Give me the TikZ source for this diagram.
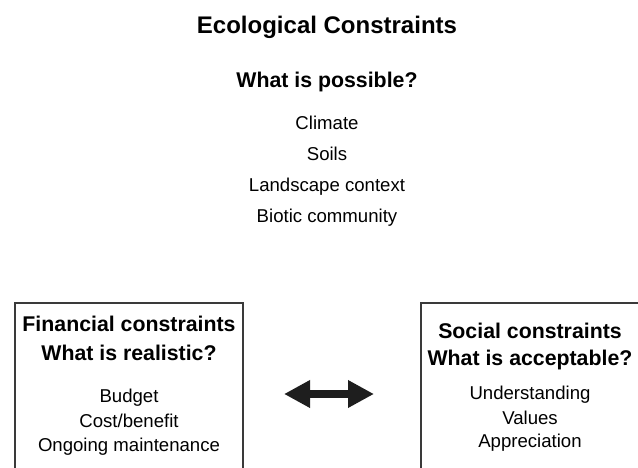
\documentclass[tikz,border=0pt]{standalone}
\usepackage{fontspec}
\setmainfont{Liberation Sans}
\usetikzlibrary{arrows.meta}

\definecolor{boxline}{HTML}{3A3A3A}
\definecolor{arrowfill}{HTML}{1E1E1E}

\tikzset{
  title/.style={font=\fontsize{24}{28}\selectfont\bfseries, text height=17.3pt, text depth=0pt},
  head/.style={font=\fontsize{21.3}{24}\selectfont\bfseries, text height=15.3pt, text depth=0pt},
  item/.style={font=\fontsize{18.6}{21}\selectfont, text height=13.4pt, text depth=0pt},
  panel/.style={draw=boxline, line width=2pt, anchor=north west, minimum height=182pt},
  twoway/.style={draw=arrowfill, line width=8pt,
    {Triangle[length=26pt,width=26pt]}-{Triangle[length=26pt,width=26pt]}}
}

\begin{document}
\begin{tikzpicture}[x=1pt,y=-1pt]
                \clip (0,0) rectangle (638,468);
                % ecological block on top
                \node[title] (eco) at (327,25) {Ecological Constraints};
                \node[head] (possible) at (327,80) {What is possible?};
                \node[item] (climate) at (327,123) {Climate};
                \node[item] (soils) at (327,154) {Soils};
                \node[item] (landscape) at (327,185) {Landscape context};
                \node[item] (biotic) at (327,216) {Biotic community};
                % the two side panels run off the bottom edge
                \node[panel, minimum width=228pt] (fin) at (14,302) {};
                \node[panel, minimum width=222pt] (soc) at (420,302) {};
                \node[head] (finhead) at (129,324) {Financial constraints};
                \node[head] (realistic) at (129,353) {What is realistic?};
                \node[item] (budget) at (129,396) {Budget};
                \node[item] (cost) at (129,421) {Cost/benefit};
                \node[item] (upkeep) at (129,445) {Ongoing maintenance};
                \node[head] (sochead) at (530,331) {Social constraints};
                \node[head] (acceptable) at (530,358) {What is acceptable?};
                \node[item] (understanding) at (530,393) {Understanding};
                \node[item] (values) at (530,418) {Values};
                \node[item] (appreciation) at (530,441) {Appreciation};
                \draw[twoway, shorten <=40pt, shorten >=46pt] (fin.east) -- (soc.west);
            \end{tikzpicture}
\end{document}
